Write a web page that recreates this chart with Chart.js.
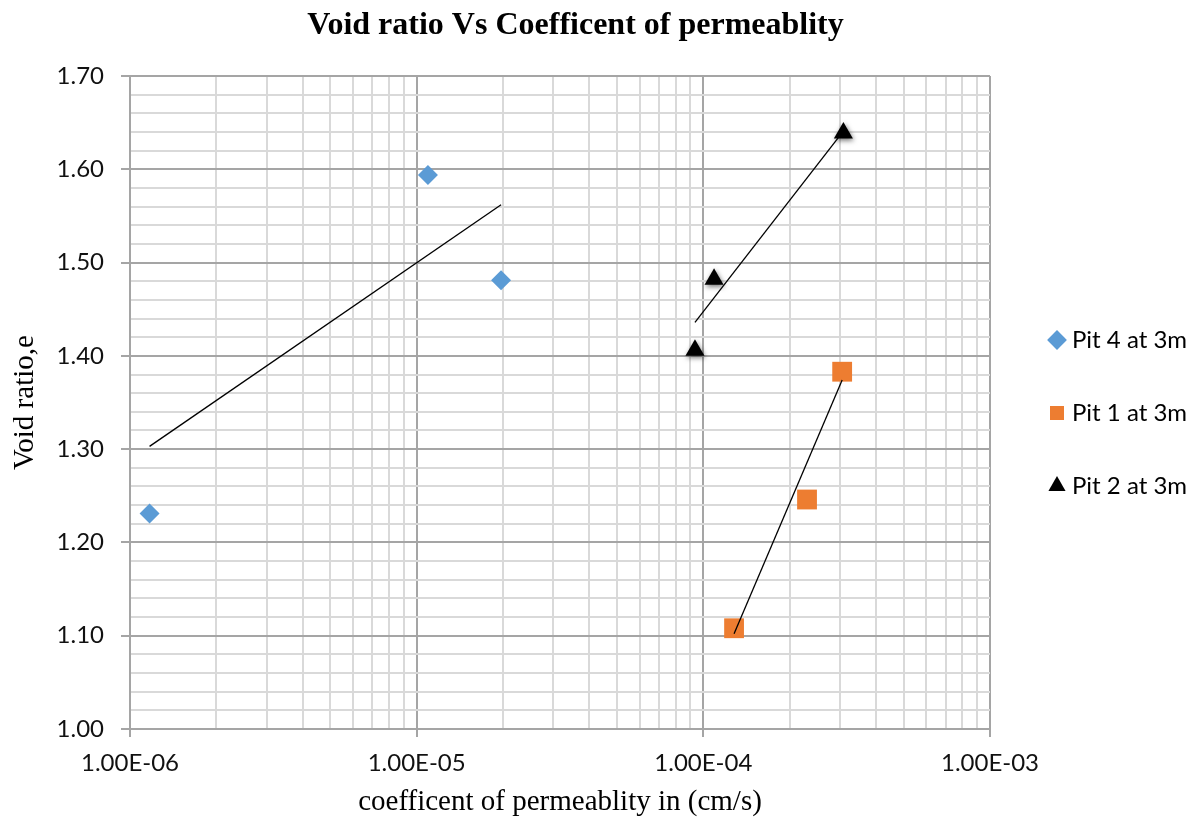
<!DOCTYPE html>
<html>
<head>
<meta charset="utf-8">
<script src="https://cdn.jsdelivr.net/npm/chart.js@4.4.1/dist/chart.umd.min.js"></script>
<style>
  html, body { margin: 0; padding: 0; background: #ffffff; }
  #wrap { width: 1198px; height: 821px; position: relative; }
</style>
</head>
<body>
<div id="wrap"><canvas id="chart"></canvas></div>
<script>
// Coefficient of permeability k (cm/s) and void ratio e for each pit
const pit4K = [1.17e-6, 1.095e-5, 1.97e-5];
const pit4E = [1.231, 1.594, 1.481];
const pit1K = [1.28e-4, 2.30e-4, 3.05e-4];
const pit1E = [1.108, 1.246, 1.383];
const pit2K = [9.35e-5, 1.09e-4, 3.08e-4];
const pit2E = [1.406, 1.482, 1.639];

// Trend line end points (k, e) for each pit
const pit4TrendK = [1.17e-6, 1.97e-5];
const pit4TrendE = [1.303, 1.562];
const pit1TrendK = [1.28e-4, 3.05e-4];
const pit1TrendE = [1.102, 1.374];
const pit2TrendK = [9.35e-5, 3.08e-4];
const pit2TrendE = [1.436, 1.641];

const seriesNames = ['Pit 4 at 3m', 'Pit 1 at 3m', 'Pit 2 at 3m'];

// Axis ticks
const kDecades = [1e-6, 1e-5, 1e-4, 1e-3];
const kDecadeLabels = ['1.00E-06', '1.00E-05', '1.00E-04', '1.00E-03'];
const eMajor = [1.0, 1.1, 1.2, 1.3, 1.4, 1.5, 1.6, 1.7];
const eMajorLabels = ['1.00', '1.10', '1.20', '1.30', '1.40', '1.50', '1.60', '1.70'];

// Grid positions: 1..9 within each decade, and five steps between value labels
const kGrid = [];
for (let i = 0; i < kDecades.length - 1; i++) {
  for (let m = 1; m <= 9; m++) kGrid.push(m * kDecades[i]);
}
kGrid.push(kDecades[kDecades.length - 1]);
const eGrid = [];
for (let i = 0; i < eMajor.length - 1; i++) {
  const step = (eMajor[i + 1] - eMajor[i]) / 5;
  for (let k = 0; k < 5; k++) eGrid.push(+(eMajor[i] + k * step).toFixed(4));
}
eGrid.push(eMajor[eMajor.length - 1]);

const isDecade = v => kDecades.some(d => Math.abs(v / d - 1) < 1e-6);
const decadeIndex = v => kDecades.findIndex(d => Math.abs(v / d - 1) < 1e-6);
const eIndex = v => eMajor.findIndex(m => Math.abs(m - v) < 1e-6);

const toPoints = (xs, ys) => xs.map((x, i) => ({ x: x, y: ys[i] }));

const MAJOR_GRID = '#a5a5a5';
const MINOR_GRID = '#d9d9d9';
const TICK_FONT = { family: 'Lato', size: 24 };
const SERIF = 'Liberation Serif';

// Soft shadow behind the triangle markers
const markerShadow = {
  id: 'markerShadow',
  beforeDatasetDraw(chart, args) {
    if (args.index === 2) {
      const c = chart.ctx;
      c.save();
      c.shadowColor = 'rgba(0,0,0,0.55)';
      c.shadowBlur = 5;
      c.shadowOffsetX = 1;
      c.shadowOffsetY = 2;
    }
  },
  afterDatasetDraw(chart, args) {
    if (args.index === 2) chart.ctx.restore();
  }
};

// Places the title and the legend column
const boxPlacement = {
  id: 'boxPlacement',
  afterLayout(chart) {
    const t = chart.titleBlock;
    if (t) { t.left = 0; t.right = 1151; }
    const lg = chart.legend;
    if (lg) {
      const pad = lg.options.labels.padding;
      lg.left = 1054 - pad;
      lg.right = chart.width;
      lg.width = lg.right - lg.left;
      const h = lg.bottom - lg.top;
      const top = 340 - lg.options.labels.font.size / 2 - pad;
      lg.top = top; lg.bottom = top + h;
    }
  }
};

new Chart(document.getElementById('chart'), {
  type: 'scatter',
  data: {
    datasets: [
      { label: seriesNames[0], data: toPoints(pit4K, pit4E), pointStyle: 'rectRot', pointRadius: 10,
        backgroundColor: '#5B9BD5', borderColor: '#5B9BD5', borderWidth: 0, order: 3 },
      { label: seriesNames[1], data: toPoints(pit1K, pit1E), pointStyle: 'rect', pointRadius: 14,
        backgroundColor: '#ED7D31', borderColor: '#ED7D31', borderWidth: 0, order: 2 },
      { label: seriesNames[2], data: toPoints(pit2K, pit2E), pointStyle: 'triangle', pointRadius: 11,
        backgroundColor: '#000000', borderColor: '#000000', borderWidth: 0, order: 0 },
      { label: 'trend4', data: toPoints(pit4TrendK, pit4TrendE), showLine: true, pointRadius: 0,
        borderColor: '#000000', borderWidth: 1.3, fill: false, order: 1 },
      { label: 'trend1', data: toPoints(pit1TrendK, pit1TrendE), showLine: true, pointRadius: 0,
        borderColor: '#000000', borderWidth: 1.3, fill: false, order: 1 },
      { label: 'trend2', data: toPoints(pit2TrendK, pit2TrendE), showLine: true, pointRadius: 0,
        borderColor: '#000000', borderWidth: 1.3, fill: false, order: 1 }
    ]
  },
  options: {
    responsive: true,
    maintainAspectRatio: false,
    animation: false,
    events: [],
    layout: { padding: { left: 0, right: 58, top: 0, bottom: 0 } },
    plugins: {
      title: {
        display: true,
        text: 'Void ratio Vs Coefficent of permeablity',
        color: '#000',
        font: { family: SERIF, size: 32, weight: 'bold' },
        padding: { top: 7, bottom: 30.6 }
      },
      legend: {
        position: 'right',
        align: 'start',
        maxWidth: 150,
        labels: {
          usePointStyle: true,
          boxWidth: 6,
          boxHeight: 14,
          padding: 49,
          color: '#000',
          font: { family: 'Lato', size: 24 },
          filter: item => item.datasetIndex < 3,
          sort: (a, b) => a.datasetIndex - b.datasetIndex
        }
      },
      tooltip: { enabled: false }
    },
    scales: {
      x: {
        type: 'logarithmic',
        min: kDecades[0],
        max: kDecades[kDecades.length - 1],
        afterBuildTicks: s => { s.ticks = kGrid.map(v => ({ value: v })); },
        afterFit: s => { s.height = 92; },
        ticks: {
          autoSkip: false,
          maxRotation: 0,
          color: '#111',
          font: TICK_FONT,
          padding: 12,
          callback: v => { const i = decadeIndex(v); return i >= 0 ? kDecadeLabels[i] : ''; }
        },
        grid: {
          color: c => (c.tick && isDecade(c.tick.value)) ? MAJOR_GRID : MINOR_GRID,
          lineWidth: 2,
          tickLength: 8,
          tickColor: c => (c.tick && isDecade(c.tick.value)) ? MAJOR_GRID : 'rgba(0,0,0,0)',
          tickWidth: 2
        },
        border: { color: MAJOR_GRID, width: 2 },
        title: {
          display: true,
          text: 'coefficent of permeablity in (cm/s)',
          color: '#000',
          font: { family: SERIF, size: 29 },
          padding: { top: 0, bottom: 1 }
        }
      },
      y: {
        type: 'linear',
        min: eMajor[0],
        max: eMajor[eMajor.length - 1],
        afterBuildTicks: s => { s.ticks = eGrid.map(v => ({ value: v })); },
        afterFit: s => { s.width = 130; },
        ticks: {
          autoSkip: false,
          color: '#111',
          font: TICK_FONT,
          padding: 17,
          callback: v => { const i = eIndex(v); return i >= 0 ? eMajorLabels[i] : ''; }
        },
        grid: {
          color: c => (c.tick && eIndex(c.tick.value) >= 0) ? MAJOR_GRID : MINOR_GRID,
          lineWidth: 2,
          tickLength: 9,
          tickColor: c => (c.tick && eIndex(c.tick.value) >= 0) ? MAJOR_GRID : 'rgba(0,0,0,0)',
          tickWidth: 2
        },
        border: { color: MAJOR_GRID, width: 2 },
        title: {
          display: true,
          text: 'Void ratio,e',
          color: '#000',
          font: { family: SERIF, size: 29 },
          padding: { top: 7.6, bottom: 0 }
        }
      }
    }
  },
  plugins: [markerShadow, boxPlacement]
});
</script>
</body>
</html>
